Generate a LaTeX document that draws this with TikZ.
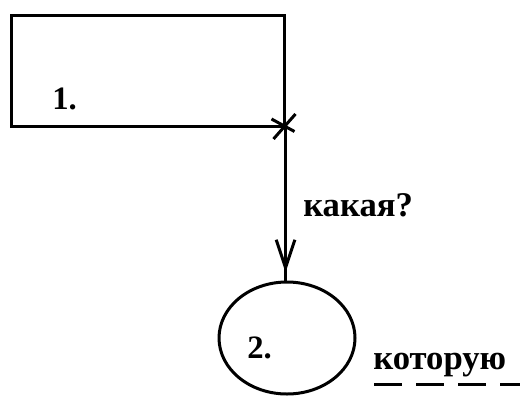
\documentclass[tikz,border=0pt]{standalone}
\usepackage{fontspec}
\setmainfont{Liberation Serif}
\usetikzlibrary{shapes.geometric,arrows.meta,decorations.markings}
\begin{document}
\begin{tikzpicture}[x=0.75pt,y=-0.75pt,
  ink/.style={line width=2.25pt,black},
  label/.style={font=\fontsize{24.5}{28}\selectfont\bfseries,inner sep=0pt,anchor=base west},
  word/.style={label,font=\fontsize{26}{30}\selectfont\bfseries},
  barbarrow/.style={ink,postaction={decorate},
    decoration={markings,mark=at position -6pt with {\arrow[line width=2.25pt]{Straight Barb[length=21pt,width=14pt]}}}}]
  \useasboundingbox (0,0) rectangle (523,396);
  % block 1
  \node[ink,draw,rectangle,inner sep=0pt,anchor=north west,
        minimum width=204.75pt,minimum height=83.25pt] (rect) at (9.5,14) {};
  \coordinate (cross) at (rect.south east);
  % crossing mark on the corner
  \draw[ink] (cross) ++(-14,-9) -- ++(23,12.5);
  \draw[ink] (cross) ++(10,-14) -- ++(-22,25);
  % block 2
  \node[ink,draw,ellipse,inner sep=0pt,minimum width=102pt,minimum height=84pt] (ell) at (287,338) {};
  % connector
  \draw[barbarrow] (cross) -- (cross |- ell.north);
  % labels
  \node[label] (l1) at (52,109) {1.};
  \node[word] (lq) at (303,216) {какая?};
  \node[label] (l2) at (247,358) {2.};
  \node[word] (lw) at (373,369) {которую};
  \coordinate (ulstart) at (374,384);
  \coordinate (ulend) at (520,384);
  \draw[ink,dash pattern=on 21pt off 10.5pt] (ulstart) -- (ulend);
\end{tikzpicture}
\end{document}
